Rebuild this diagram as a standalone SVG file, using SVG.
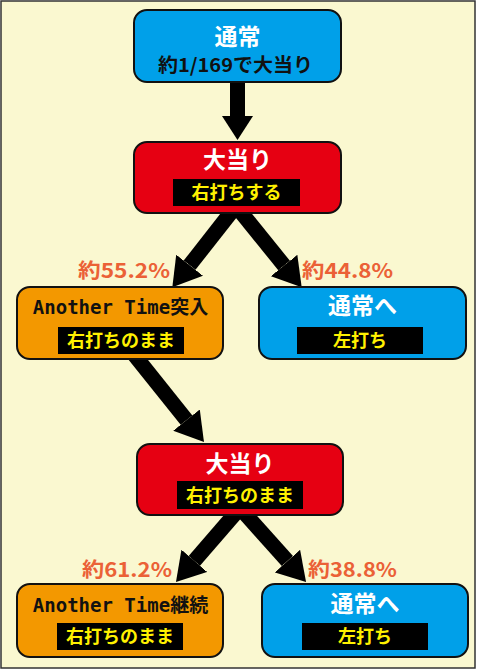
<svg xmlns="http://www.w3.org/2000/svg" width="477" height="670" viewBox="0 0 477 670">
<defs>
<style>
.bg{fill:#faf8d0;stroke:#333;stroke-width:1.5}
.node{stroke:#111;stroke-width:2}
.blue{fill:#00a0e9}
.red{fill:#e60012}
.orange{fill:#f39800}
.tag{fill:#000}
.jp{font-family:"Noto Sans CJK JP","Noto Sans",sans-serif;font-weight:bold;text-anchor:middle}
.title{font-size:23px;fill:#fff}
.sub{font-size:18px;fill:#fff100}
.mono{font-family:"DejaVu Sans Mono","Noto Sans CJK JP",monospace;font-weight:bold;font-size:19px;fill:#111;text-anchor:middle}
.pct{font-family:"Noto Sans CJK JP","Noto Sans",sans-serif;font-weight:bold;font-size:20px;fill:#eb6136}
.conn{stroke:#000;stroke-width:15;fill:none;marker-end:url(#head2)}
.vert{marker-end:url(#head)}
</style>
<marker id="head" markerUnits="userSpaceOnUse" viewBox="0 0 24 31" markerWidth="24" markerHeight="31" refX="0" refY="15.5" orient="auto">
<path d="M0,0 L24,15.5 L0,31 z" fill="#000"/>
</marker>
<marker id="head2" markerUnits="userSpaceOnUse" viewBox="0 0 28 34" markerWidth="28" markerHeight="34" refX="0" refY="17" orient="auto">
<path d="M0,0 L28,17 L0,34 z" fill="#000"/>
</marker>
</defs>
<rect class="bg" x="1" y="1" width="474" height="667"/>
<g id="connectors">
<line class="conn vert" x1="237.5" y1="78" x2="237.5" y2="116"/>
<line class="conn" x1="236" y1="206" x2="189.6" y2="265.2"/>
<line class="conn" x1="236" y1="206" x2="284.1" y2="265.5"/>
<line class="conn" x1="132" y1="352" x2="186.5" y2="420.1"/>
<line class="conn" x1="240" y1="508" x2="194.3" y2="560.8"/>
<line class="conn" x1="240" y1="508" x2="287.4" y2="561.1"/>
</g>
<g id="n-normal">
<rect class="node blue" x="134" y="10" width="207" height="72" rx="13"/>
<text class="jp title" x="237.5" y="45">通常</text>
<text class="jp" x="235.5" y="72" font-size="19" fill="#111" textLength="155" lengthAdjust="spacingAndGlyphs">約1/169で大当り</text>
</g>
<g id="n-bonus1">
<rect class="node red" x="134" y="142" width="207" height="71" rx="13"/>
<text class="jp title" x="237.5" y="168">大当り</text>
<rect class="tag" x="173" y="179" width="127" height="27"/>
<text class="jp sub" x="236.5" y="199">右打ちする</text>
</g>
<text class="pct" x="78" y="278" textLength="92" lengthAdjust="spacingAndGlyphs">約55.2%</text>
<text class="pct" x="302" y="278" textLength="91" lengthAdjust="spacingAndGlyphs">約44.8%</text>
<g id="n-at-entry">
<rect class="node orange" x="17" y="287" width="206" height="72" rx="13"/>
<text class="mono" x="120.5" y="314">Another Time突入</text>
<rect class="tag" x="58" y="327" width="126" height="27"/>
<text class="jp sub" x="121" y="347">右打ちのまま</text>
</g>
<g id="n-normal2">
<rect class="node blue" x="259" y="287" width="207" height="72" rx="13"/>
<text class="jp title" x="362.5" y="314">通常へ</text>
<rect class="tag" x="297" y="327" width="126" height="27"/>
<text class="jp sub" x="360" y="347">左打ち</text>
</g>
<g id="n-bonus2">
<rect class="node red" x="137" y="444" width="206" height="71" rx="13"/>
<text class="jp title" x="240" y="472">大当り</text>
<rect class="tag" x="177" y="481" width="126" height="28"/>
<text class="jp sub" x="240" y="502">右打ちのまま</text>
</g>
<text class="pct" x="82" y="577" textLength="90" lengthAdjust="spacingAndGlyphs">約61.2%</text>
<text class="pct" x="308" y="577" textLength="89" lengthAdjust="spacingAndGlyphs">約38.8%</text>
<g id="n-at-cont">
<rect class="node orange" x="17" y="584" width="206" height="73" rx="13"/>
<text class="mono" x="120.5" y="612">Another Time継続</text>
<rect class="tag" x="57" y="623" width="126" height="27"/>
<text class="jp sub" x="120" y="643">右打ちのまま</text>
</g>
<g id="n-normal3">
<rect class="node blue" x="262" y="584" width="206" height="73" rx="13"/>
<text class="jp title" x="365" y="612">通常へ</text>
<rect class="tag" x="302" y="623" width="126" height="27"/>
<text class="jp sub" x="365" y="643">左打ち</text>
</g>
</svg>
